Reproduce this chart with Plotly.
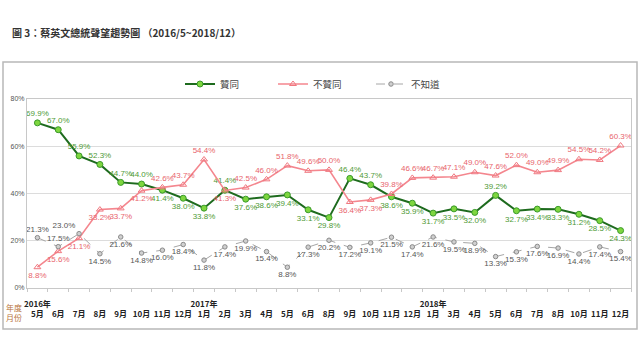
import plotly.graph_objects as go

months = ["5月","6月","7月","8月","9月","10月","11月","12月",
          "1月","2月","3月","4月","5月","6月","8月","9月","10月","11月","12月",
          "1月","3月","4月","5月","6月","7月","8月","10月","11月","12月"]
years = {0: "2016年", 8: "2017年", 19: "2018年"}

approve = [69.9, 67.0, 55.9, 52.3, 44.7, 44.0, 41.4, 38.0,
           33.8, 41.4, 37.6, 38.6, 39.4, 33.1, 29.8, 46.4, 43.7, 38.6, 35.9,
           31.7, 33.5, 32.0, 39.2, 32.7, 33.4, 33.3, 31.2, 28.5, 24.3]
disapprove = [8.8, 15.6, 21.1, 33.2, 33.7, 41.2, 42.6, 43.7,
              54.4, 41.3, 42.5, 46.0, 51.8, 49.6, 50.0, 36.4, 37.3, 39.8, 46.6,
              46.7, 47.1, 49.0, 47.6, 52.0, 49.0, 49.9, 54.5, 54.2, 60.3]
unknown = [21.3, 17.5, 23.0, 14.5, 21.6, 14.8, 16.0, 18.4,
           11.8, 17.4, 19.9, 15.4, 8.8, 17.3, 20.2, 17.2, 19.1, 21.5, 17.4,
           21.6, 19.5, 18.9, 13.3, 15.3, 17.6, 16.9, 14.4, 17.4, 15.4]

n = len(months)
x = list(range(n))

T, B, R, L = "top center", "bottom center", "middle right", "top left"
pos_approve = [T, T, T, T, T, T, B, B,
               B, T, B, B, B, B, B, T, T, B, B,
               B, B, B, T, B, B, B, B, B, B]
pos_dis = [B, B, B, B, B, B, T, T,
           T, B, T, T, T, T, T, B, B, T, T,
           T, T, T, T, T, T, T, T, T, T]
pos_unk = [T, T, L] + [B] * (n - 3)

ticktext = [(f"<b>{years[i]}</b><br>" if i in years else "<br>") + f"<b>{m}</b>" for i, m in enumerate(months)]

lbl_font = "Liberation Sans, Arial, sans-serif"
cjk = "Noto Sans CJK TC, Liberation Sans, sans-serif"

W, H = 640, 362
PL, PT, PW, PH = 27, 99, 604, 189   # plot area in pixels


def px(v):
    return (v - PL) / PW


def py(v):
    return (PT + PH - v) / PH


fig = go.Figure()
fig.add_trace(go.Scatter(
    x=x, y=approve, name="贊同", mode="lines+markers+text", legend="legend",
    line=dict(color="#1e6b1e", width=2),
    marker=dict(symbol="circle", size=6, color="#7ed63f", line=dict(color="#3a9a2a", width=1)),
    text=[f"{v:.1f}%" for v in approve], textposition=pos_approve,
    textfont=dict(family=lbl_font, size=8, color="#4e9a35"),
    cliponaxis=False,
))
fig.add_trace(go.Scatter(
    x=x, y=disapprove, name="不贊同", mode="lines+markers+text", legend="legend2",
    line=dict(color="#f4868e", width=1.6),
    marker=dict(symbol="triangle-up-open", size=6, color="#f07880", line=dict(width=1)),
    text=[f"{v:.1f}%" for v in disapprove], textposition=pos_dis,
    textfont=dict(family=lbl_font, size=8, color="#e8646c"),
    cliponaxis=False,
))
fig.add_trace(go.Scatter(
    x=x, y=unknown, name="不知道", mode="lines+markers+text", legend="legend3",
    line=dict(color="#a6a6a6", width=1, dash="dash"),
    marker=dict(symbol="circle", size=4.5, color="#d0d0d0", line=dict(color="#8a8a8a", width=1)),
    text=[f"{v:.1f}%" for v in unknown], textposition=pos_unk,
    textfont=dict(family=lbl_font, size=8, color="#555555"),
    cliponaxis=False,
))

leg_common = dict(orientation="h", xanchor="left", yanchor="middle", y=py(84),
                  font=dict(family=cjk, size=9.5, color="#444"),
                  bgcolor="rgba(0,0,0,0)", itemwidth=30)

fig.update_layout(
    width=W, height=H,
    margin=dict(l=PL, r=W - PL - PW, t=PT, b=H - PT - PH),
    paper_bgcolor="white", plot_bgcolor="white",
    font=dict(family=cjk, size=9, color="#333"),
    showlegend=True,
    legend=dict(x=px(180), **leg_common),
    legend2=dict(x=px(273), **leg_common),
    legend3=dict(x=px(371), **leg_common),
    xaxis=dict(range=[-0.5, n - 0.5], tickmode="array", tickvals=x, ticktext=ticktext,
               tickangle=0, automargin=False, ticklabelstandoff=8,
               ticks="", showgrid=False, zeroline=False,
               showline=True, linecolor="#c8c8c8", linewidth=1, mirror=True,
               tickfont=dict(family=cjk, size=8, color="#222"),
               minor=dict(tick0=0.5, dtick=1, ticks="outside", ticklen=3, tickcolor="#c8c8c8", showgrid=False)),
    yaxis=dict(range=[0, 80], tickvals=[0, 20, 40, 60, 80], ticktext=["0%", "20%", "40%", "60%", "80%"],
               automargin=False,
               showgrid=True, gridcolor="#dcdcdc", gridwidth=1, zeroline=False,
               showline=True, linecolor="#c8c8c8", mirror=True, ticks="",
               tickfont=dict(family=lbl_font, size=7, color="#555")),
)

# outer frame
fig.add_shape(type="rect", xref="paper", yref="paper",
              x0=px(3), x1=px(637), y0=py(329), y1=py(62),
              line=dict(color="#b8b8b8", width=1.5), fillcolor="rgba(0,0,0,0)", layer="below")

fig.add_annotation(text="<b>圖 3：蔡英文總統聲望趨勢圖 （2016/5~2018/12）</b>",
                   xref="paper", yref="paper", x=px(10), y=py(32),
                   xanchor="left", yanchor="middle", showarrow=False,
                   font=dict(family=cjk, size=10, color="#333"))
fig.add_annotation(text="年度<br>月份", xref="paper", yref="paper",
                   x=px(13.5), y=py(312), xanchor="center", yanchor="middle",
                   showarrow=False, font=dict(family=cjk, size=8, color="#b8733a"))

fig.write_html("out.html", config={"displayModeBar": False},
               post_script="document.body.style.margin='0';document.body.style.overflow='hidden';")
